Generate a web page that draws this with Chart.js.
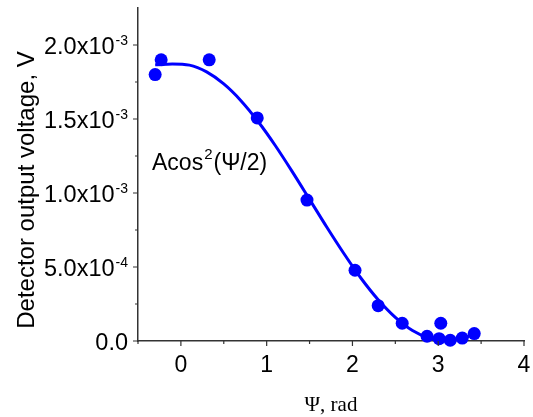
<!DOCTYPE html>
<html>
<head>
<title>Detector output voltage</title>
<script src="https://cdn.jsdelivr.net/npm/chart.js"></script>
<style>
  body { margin: 0; background: #fff; }
  canvas { display: block; }
</style>
</head>
<body>
<canvas id="chart" width="533" height="417"></canvas>
<script>
// measured points (psi in rad, detector voltage in V)
const psiData  = [-0.30, -0.23, 0.33, 0.89, 1.47, 2.03, 2.30, 2.58, 2.87, 3.01, 3.03, 3.14, 3.28, 3.42];
const voltData = [1.80e-3, 1.90e-3, 1.90e-3, 1.507e-3, 0.952e-3, 0.478e-3, 0.239e-3, 0.120e-3,
                  0.032e-3, 0.016e-3, 0.120e-3, 0.005e-3, 0.020e-3, 0.050e-3];

// fitted curve A cos^2(psi/2)
const fitPsi  = [-0.3, -0.1, 0.1, 0.3, 0.5, 0.7, 0.9, 1.1, 1.3, 1.5, 1.7, 1.9, 2.1, 2.3, 2.5, 2.7, 2.9, 3.1, 3.3, 3.42];
const fitVolt = [1.866e-3, 1.872e-3, 1.864e-3, 1.818e-3, 1.737e-3, 1.624e-3, 1.483e-3, 1.321e-3, 1.143e-3,
                 0.957e-3, 0.770e-3, 0.591e-3, 0.424e-3, 0.279e-3, 0.160e-3, 0.071e-3, 0.018e-3, 0.000,
                 0.020e-3, 0.048e-3];

const xTicks = [0, 1, 2, 3, 4];
const xMinor = [-0.5, 0.5, 1.5, 2.5, 3.5];
const yTicks = [0, 0.5e-3, 1.0e-3, 1.5e-3, 2.0e-3];
const yMinor = [0.25e-3, 0.75e-3, 1.25e-3, 1.75e-3];
const yTickText = ['0.0', '5.0x10', '1.0x10', '1.5x10', '2.0x10'];
const yTickExp  = ['', '-4', '-3', '-3', '-3'];

const blue = '#0000ff';
const axisColor = '#333';
const sans = 'Arial, "Liberation Sans", sans-serif';

const labelsPlugin = {
  id: 'labels',
  afterDraw(chart) {
    const ctx = chart.ctx;
    const xs = chart.scales.x, ys = chart.scales.y;
    const area = chart.chartArea;
    ctx.save();
    ctx.strokeStyle = axisColor;
    ctx.lineWidth = 1.2;
    // x ticks
    ctx.beginPath();
    xTicks.forEach(v => { const p = xs.getPixelForValue(v); ctx.moveTo(p, area.bottom); ctx.lineTo(p, area.bottom + 5); });
    xMinor.forEach(v => { const p = xs.getPixelForValue(v); ctx.moveTo(p, area.bottom); ctx.lineTo(p, area.bottom + 3); });
    // y ticks
    yTicks.forEach(v => { const p = ys.getPixelForValue(v); ctx.moveTo(area.left, p); ctx.lineTo(area.left - 5, p); });
    yMinor.forEach(v => { const p = ys.getPixelForValue(v); ctx.moveTo(area.left, p); ctx.lineTo(area.left - 3, p); });
    ctx.stroke();

    ctx.fillStyle = '#000';
    // x tick labels
    ctx.font = '23px ' + sans;
    ctx.textAlign = 'center';
    ctx.textBaseline = 'alphabetic';
    xTicks.forEach(v => ctx.fillText(String(v), xs.getPixelForValue(v), area.bottom + 31));

    // y tick labels with superscript exponent
    ctx.textAlign = 'left';
    yTicks.forEach((v, i) => {
      const p = ys.getPixelForValue(v);
      ctx.font = '14px ' + sans;
      const ew = yTickExp[i] ? ctx.measureText(yTickExp[i]).width : 0;
      ctx.font = '23.5px ' + sans;
      const mw = ctx.measureText(yTickText[i]).width;
      const right = area.left - 10;
      const x0 = right - ew - mw - (ew ? 1 : 0);
      ctx.fillText(yTickText[i], x0, p + 8.5);
      if (ew) {
        ctx.font = '14px ' + sans;
        ctx.fillText(yTickExp[i], x0 + mw + 1, p);
      }
    });

    // axis titles
    ctx.font = '21px "Liberation Serif", "Times New Roman", serif';
    ctx.textAlign = 'center';
    ctx.fillText('\u03A8, rad', (area.left + area.right) / 2, 411);

    ctx.save();
    ctx.translate(34, 190);
    ctx.rotate(-Math.PI / 2);
    ctx.font = '24px ' + sans;
    ctx.fillText('Detector output voltage, V', 0, 0);
    ctx.restore();

    // fit annotation
    ctx.textAlign = 'left';
    let ax = 152;
    const ay = 170;
    ctx.font = '23px ' + sans;
    ctx.fillText('Acos', ax, ay);
    ax += ctx.measureText('Acos').width + 1;
    ctx.font = '15px ' + sans;
    ctx.fillText('2', ax, ay - 11);
    ax += ctx.measureText('2').width + 1;
    ctx.font = '23px ' + sans;
    ctx.fillText('(\u03A8/2)', ax, ay);
    ctx.restore();
  }
};

new Chart(document.getElementById('chart'), {
  type: 'scatter',
  data: {
    datasets: [
      {
        label: 'measured',
        data: psiData.map((x, i) => ({ x: x, y: voltData[i] })),
        backgroundColor: blue,
        borderColor: blue,
        pointRadius: 6.5,
        pointBorderWidth: 0,
        clip: false
      },
      {
        type: 'line',
        label: 'Acos^2(psi/2)',
        data: fitPsi.map((x, i) => ({ x: x, y: fitVolt[i] })),
        borderColor: blue,
        borderWidth: 3,
        pointRadius: 0,
        fill: false,
        cubicInterpolationMode: 'monotone',
        clip: false
      }
    ]
  },
  options: {
    responsive: false,
    animation: false,
    layout: { padding: { top: 8, right: 9, left: 0, bottom: 0 } },
    plugins: { legend: { display: false }, tooltip: { enabled: false } },
    scales: {
      x: {
        type: 'linear',
        min: -0.5,
        max: 4,
        grid: { display: false },
        border: { display: true, color: axisColor, width: 1.5 },
        ticks: { display: false },
        afterFit: s => { s.height = 76; }
      },
      y: {
        type: 'linear',
        min: 0,
        max: 2.25e-3,
        grid: { display: false },
        border: { display: true, color: axisColor, width: 1.5 },
        ticks: { display: false },
        afterFit: s => { s.width = 138; }
      }
    }
  },
  plugins: [labelsPlugin]
});
</script>
</body>
</html>
